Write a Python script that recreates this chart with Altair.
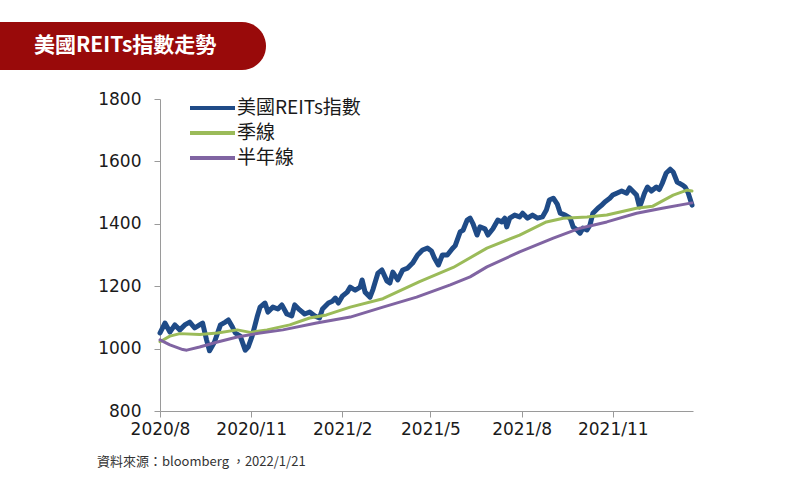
import altair as alt
import pandas as pd

# ---- data ----
idx_dates = [
    "2020-08-01", "2020-08-06", "2020-08-11", "2020-08-16", "2020-08-21", "2020-08-26", "2020-08-31",
    "2020-09-05", "2020-09-10", "2020-09-13", "2020-09-17", "2020-09-20", "2020-09-25",
    "2020-10-01", "2020-10-06", "2020-10-09", "2020-10-13", "2020-10-16", "2020-10-21", "2020-10-26", "2020-10-29",
    "2020-11-02", "2020-11-07", "2020-11-10", "2020-11-15", "2020-11-18", "2020-11-23", "2020-11-28",
    "2020-12-02", "2020-12-07", "2020-12-12", "2020-12-15", "2020-12-20", "2020-12-25", "2020-12-30",
    "2021-01-04", "2021-01-09", "2021-01-12", "2021-01-18", "2021-01-22", "2021-01-25", "2021-01-28",
    "2021-02-01", "2021-02-06", "2021-02-09", "2021-02-14", "2021-02-19", "2021-02-21", "2021-02-24",
    "2021-03-01", "2021-03-04", "2021-03-09", "2021-03-13", "2021-03-18", "2021-03-21", "2021-03-24", "2021-03-29",
    "2021-04-03", "2021-04-08", "2021-04-13", "2021-04-18", "2021-04-23", "2021-04-28",
    "2021-05-02", "2021-05-05", "2021-05-09", "2021-05-13", "2021-05-18", "2021-05-23", "2021-05-26", "2021-05-31",
    "2021-06-03", "2021-06-07", "2021-06-10", "2021-06-13", "2021-06-17", "2021-06-20", "2021-06-25", "2021-06-28",
    "2021-07-03", "2021-07-08", "2021-07-12", "2021-07-15", "2021-07-17", "2021-07-20", "2021-07-25", "2021-07-30",
    "2021-08-02", "2021-08-07", "2021-08-12", "2021-08-17", "2021-08-22", "2021-08-26", "2021-08-29",
    "2021-09-02", "2021-09-06", "2021-09-09", "2021-09-14", "2021-09-19", "2021-09-22", "2021-09-26", "2021-09-29",
    "2021-10-02", "2021-10-06", "2021-10-09", "2021-10-12", "2021-10-17", "2021-10-21", "2021-10-24", "2021-10-29",
    "2021-11-01", "2021-11-05", "2021-11-10", "2021-11-15", "2021-11-18", "2021-11-21", "2021-11-25", "2021-11-28", "2021-11-30",
    "2021-12-03", "2021-12-06", "2021-12-10", "2021-12-15", "2021-12-18", "2021-12-21", "2021-12-25", "2021-12-29",
    "2022-01-01", "2022-01-05", "2022-01-10", "2022-01-13", "2022-01-16", "2022-01-20",
]
idx_values = [
    1050, 1082, 1053, 1076, 1060, 1076, 1085,
    1066, 1076, 1082, 1028, 993, 1021,
    1076, 1085, 1092, 1070, 1050, 1040, 995, 1005,
    1040, 1101, 1133, 1146, 1117, 1133, 1127,
    1140, 1111, 1105, 1140, 1124, 1111, 1117,
    1105, 1098, 1127, 1146, 1152, 1162, 1146,
    1168, 1181, 1197, 1187, 1197, 1220, 1181,
    1165, 1190, 1242, 1252, 1217, 1210, 1245, 1220,
    1252, 1258, 1274, 1300, 1316, 1322,
    1313, 1290, 1268, 1300, 1300, 1320, 1330, 1374,
    1380, 1412, 1418, 1400, 1364, 1390, 1384, 1364,
    1384, 1412, 1406, 1418, 1390, 1418, 1428, 1422,
    1434, 1418, 1428, 1418, 1422, 1444, 1476,
    1482, 1463, 1434, 1428, 1418, 1390, 1380, 1370,
    1386, 1380, 1396, 1434, 1450, 1460, 1470, 1482,
    1492, 1498, 1505, 1498, 1515, 1505, 1492, 1454, 1470,
    1498, 1518, 1505, 1518, 1510, 1530, 1563, 1575,
    1566, 1534, 1525, 1518, 1500, 1460,
]

q_dates = ["2020-08-01", "2020-08-11", "2020-08-21", "2020-09-10", "2020-09-28", "2020-10-18",
           "2020-10-31", "2020-11-17", "2020-12-10", "2020-12-30", "2021-01-16", "2021-02-09",
           "2021-03-14", "2021-04-20", "2021-05-24", "2021-06-27", "2021-07-30", "2021-08-26",
           "2021-09-12", "2021-10-06", "2021-10-26", "2021-11-25", "2021-12-11", "2022-01-01",
           "2022-01-15", "2022-01-20"]
q_values = [1022, 1040, 1048, 1045, 1050, 1060,
            1052, 1060, 1076, 1098, 1108, 1133,
            1160, 1215, 1260, 1322, 1364, 1406,
            1418, 1422, 1428, 1450, 1456, 1492,
            1508, 1505]

h_dates = ["2020-08-01", "2020-08-11", "2020-08-24", "2020-08-28", "2020-09-10", "2020-09-28",
           "2020-10-18", "2020-11-10", "2020-12-03", "2021-01-06", "2021-02-09", "2021-03-14",
           "2021-04-17", "2021-05-21", "2021-06-10", "2021-06-27", "2021-07-30", "2021-09-02",
           "2021-09-29", "2021-10-26", "2021-11-25", "2021-12-21", "2022-01-20"]
h_values = [1028, 1012, 997, 995, 1005, 1021,
            1037, 1050, 1060, 1082, 1101, 1133,
            1165, 1204, 1230, 1262, 1310, 1354,
            1386, 1406, 1434, 1450, 1467]

series_names = ["美國REITs指數", "季線", "半年線"]
series_colors = ["#1f4b87", "#9bbb59", "#8064a2"]
y_ticks = [800, 1000, 1200, 1400, 1600, 1800]
x_ticks = [(2020, 8), (2020, 11), (2021, 2), (2021, 5), (2021, 8), (2021, 11)]
title_text = "美國REITs指數走勢"
source_text = "資料來源：bloomberg ，2022/1/21"

assert len(idx_dates) == len(idx_values)
assert len(q_dates) == len(q_values)
assert len(h_dates) == len(h_values)

FONT = "DejaVu Sans"
CJK = "Noto Sans CJK TC"

x_scale = alt.Scale(
    type="utc",
    domain=[alt.DateTime(year=2020, month=8, date=1, utc=True),
            alt.DateTime(year=2022, month=1, date=21, utc=True)],
)
x_axis = alt.Axis(
    values=[alt.DateTime(year=y, month=m, date=1, utc=True) for y, m in x_ticks],
    labelExpr="utcFormat(datum.value, '%Y/%-m')", title=None, grid=False,
    domainColor="#9a9a9a", tickColor="#9a9a9a", tickSize=6,
    labelFont=FONT, labelFontSize=17, labelColor="#1a1a1a", labelPadding=4,
    labelFlush=False,
)
y_scale = alt.Scale(domain=[800, 1800], nice=False, zero=False)
y_axis = alt.Axis(
    values=y_ticks, title=None, grid=False, format="d",
    domainColor="#9a9a9a", tickColor="#9a9a9a", tickSize=6,
    labelFont=FONT, labelFontSize=17, labelColor="#1a1a1a", labelPadding=13,
)


def line_layer(dates, values, color, width):
    df = pd.DataFrame({"date": dates, "value": values})
    return alt.Chart(df).mark_line(color=color, strokeWidth=width, strokeJoin="round",
                                   strokeCap="round").encode(
        x=alt.X("date:T", scale=x_scale, axis=x_axis),
        y=alt.Y("value:Q", scale=y_scale, axis=y_axis),
    )


blue = line_layer(idx_dates, idx_values, series_colors[0], 5)
green = line_layer(q_dates, q_values, series_colors[1], 3)
purple = line_layer(h_dates, h_values, series_colors[2], 3)

one = pd.DataFrame({"k": [0]})

# title banner
banner = alt.Chart(one).mark_rect(
    color="#990a0a", cornerRadiusTopRight=24, cornerRadiusBottomRight=24
).encode(x=alt.value(-160), x2=alt.value(106), y=alt.value(-77), y2=alt.value(-29))
banner_text = alt.Chart(one).mark_text(
    text=title_text, color="white", font=CJK, fontSize=21, fontWeight="bold",
    align="left", baseline="middle"
).encode(x=alt.value(-126), y=alt.value(-53))

# legend (manual, inside plot)
legend_layers = []
for i, (name, col) in enumerate(zip(series_names, series_colors)):
    yy = 9 + 25 * i
    legend_layers.append(
        alt.Chart(one).mark_rule(color=col, strokeWidth=4).encode(
            x=alt.value(30), x2=alt.value(75), y=alt.value(yy))
    )
    legend_layers.append(
        alt.Chart(one).mark_text(text=name, font=CJK, fontSize=19, color="#1a1a1a",
                                 align="left", baseline="middle").encode(
            x=alt.value(77), y=alt.value(yy))
    )

source = alt.Chart(one).mark_text(
    text=source_text, font=CJK, fontSize=13, color="#333333",
    align="left", baseline="middle"
).encode(x=alt.value(-63), y=alt.value(363))

chart = alt.layer(
    blue, green, purple, banner, banner_text, source, *legend_layers
).properties(
    width=533, height=312,
    autosize=alt.AutoSizeParams(type="none"),
    padding={"left": 160, "top": 99, "right": 107, "bottom": 69},
    background="white",
).configure_view(stroke=None)

chart.save("out.html", embed_options={"renderer": "svg", "actions": False})
